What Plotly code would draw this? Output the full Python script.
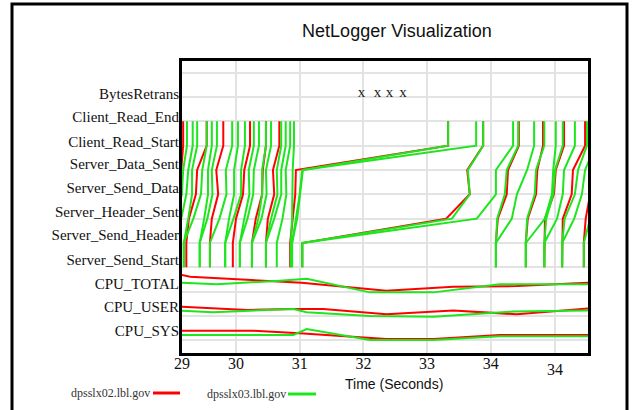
import plotly.graph_objects as go

TITLE = "NetLogger Visualization"
X_TITLE = "Time (Seconds)"
HOSTS = ["dpsslx02.lbl.gov", "dpsslx03.lbl.gov"]
HOST_COLORS = ["#ff0000", "#1ee61e"]

# y-axis category labels (top to bottom) and their positions on the numeric axis
Y_LABELS = ["BytesRetrans", "Client_Read_End", "Client_Read_Start", "Server_Data_Sent",
            "Server_Send_Data", "Server_Header_Sent", "Server_Send_Header", "Server_Send_Start",
            "CPU_TOTAL", "CPU_USER", "CPU_SYS"]
Y_LABEL_POS = [11.12, 10.17, 9.16, 8.25, 7.29, 6.29, 5.33, 4.33, 3.34, 2.37, 1.39]

# lifeline event order and levels
EVENT_NAMES = ["Server_Send_Start", "Server_Send_Header", "Server_Header_Sent",
               "Server_Send_Data", "Server_Data_Sent", "Client_Read_Start", "Client_Read_End"]
EVENT_LEVELS = [4, 5, 6, 7, 8, 9, 10]

X_TICK_VALS = [29.152, 30, 31, 32, 33, 34, 35]
X_TICK_TEXT = ["29", "30", "31", "32", "33", "34", ""]
LAST_TICK_VAL = 35
LAST_TICK_TEXT = "34"
X_RANGE = [29.152, 35.526]
Y_RANGE = [0.478, 12.48]

# lifelines (seconds at each event), host dpsslx02 (red)
RED_LIFELINES = [
    [28.93, 28.93, 29.04, 29.12, 29.14, 29.17, 29.17],
    [29.22, 29.22, 29.26, 29.37, 29.39, 29.54, 29.54],
    [29.59, 29.59, 29.62, 29.72, 29.69, 29.80, 29.80],
    [29.95, 29.95, 30.00, 30.11, 30.13, 30.22, 30.22],
    [30.25, 30.25, 30.31, 30.41, 30.42, 30.47, 30.47],
    [30.47, 30.47, 30.50, 30.60, 30.58, 30.68, 30.68],
    [30.85, 30.85, 30.89, 30.93, 30.94, 33.33, 33.33],
    [31.04, 31.04, 33.30, 33.67, 33.63, 33.88, 33.88],
    [34.08, 34.08, 34.11, 34.25, 34.27, 34.44, 34.44],
    [34.55, 34.55, 34.58, 34.71, 34.73, 34.82, 34.82],
    [34.84, 34.84, 34.85, 34.99, 35.02, 35.15, 35.15],
    [35.12, 35.12, 35.13, 35.27, 35.29, 35.48, 35.48],
    [35.46, 35.46, 35.49, 35.56, 35.59, 35.71, 35.71],
]

# lifelines, host dpsslx03 (green)
GREEN_LIFELINES = [
    [28.96, 28.96, 29.06, 29.15, 29.17, 29.23, 29.23],
    [29.06, 29.06, 29.14, 29.22, 29.25, 29.32, 29.32],
    [29.18, 29.18, 29.25, 29.31, 29.31, 29.39, 29.39],
    [29.18, 29.18, 29.33, 29.45, 29.47, 29.54, 29.54],
    [29.43, 29.43, 29.50, 29.56, 29.56, 29.62, 29.62],
    [29.43, 29.43, 29.55, 29.63, 29.62, 29.70, 29.70],
    [29.59, 29.59, 29.74, 29.85, 29.84, 29.94, 29.94],
    [29.83, 29.83, 29.89, 29.97, 29.97, 30.03, 30.03],
    [29.83, 29.83, 29.96, 30.08, 30.08, 30.14, 30.14],
    [30.06, 30.06, 30.13, 30.21, 30.20, 30.28, 30.28],
    [30.06, 30.06, 30.18, 30.27, 30.28, 30.36, 30.36],
    [30.25, 30.25, 30.35, 30.41, 30.41, 30.47, 30.47],
    [30.25, 30.25, 30.40, 30.48, 30.47, 30.55, 30.55],
    [30.47, 30.47, 30.55, 30.65, 30.64, 30.71, 30.71],
    [30.47, 30.47, 30.60, 30.71, 30.71, 30.78, 30.78],
    [30.64, 30.64, 30.73, 30.79, 30.78, 30.85, 30.85],
    [30.86, 30.86, 30.88, 30.88, 30.89, 30.91, 30.91],
    [30.88, 30.88, 30.94, 31.00, 31.04, 33.33, 33.33],
    [30.88, 30.88, 30.96, 31.00, 31.05, 33.77, 33.77],
    [31.04, 31.04, 33.39, 33.67, 33.64, 33.88, 33.88],
    [31.04, 31.04, 33.78, 34.08, 34.08, 34.35, 34.35],
    [34.08, 34.08, 34.10, 34.22, 34.25, 34.43, 34.43],
    [34.08, 34.08, 34.33, 34.41, 34.57, 34.68, 34.68],
    [34.55, 34.55, 34.57, 34.69, 34.71, 34.84, 34.84],
    [34.55, 34.55, 34.85, 34.96, 34.98, 35.02, 35.02],
    [34.84, 34.84, 34.87, 34.98, 35.01, 35.13, 35.13],
    [34.84, 34.84, 35.04, 35.13, 35.15, 35.32, 35.32],
    [35.12, 35.12, 35.16, 35.32, 35.37, 35.51, 35.51],
    [35.12, 35.12, 35.31, 35.43, 35.48, 35.64, 35.64],
    [35.46, 35.46, 35.56, 35.66, 35.71, 35.79, 35.79],
]

# CPU metrics (time, scaled value on the y axis)
RED_CPU_TOTAL_T = [29.12, 29.28, 31.03, 32.36, 33.41, 34.41, 35.53]
RED_CPU_TOTAL_V = [3.70, 3.61, 3.37, 3.04, 3.20, 3.23, 3.37]
GREEN_CPU_TOTAL_T = [29.12, 29.70, 30.69, 31.11, 32.10, 33.10, 34.14, 35.53]
GREEN_CPU_TOTAL_V = [3.37, 3.30, 3.45, 3.53, 2.97, 2.97, 3.30, 3.30]

RED_CPU_USER_T = [29.12, 30.17, 30.90, 31.37, 32.36, 33.41, 34.41, 35.53]
RED_CPU_USER_V = [2.38, 2.25, 2.29, 2.29, 2.07, 2.22, 2.07, 2.31]
GREEN_CPU_USER_T = [29.12, 29.64, 30.90, 31.11, 32.10, 33.10, 34.35, 35.53]
GREEN_CPU_USER_V = [2.22, 2.15, 2.29, 2.15, 2.00, 1.97, 2.18, 2.22]

RED_CPU_SYS_T = [29.12, 30.27, 31.00, 32.36, 33.10, 34.14, 35.53]
RED_CPU_SYS_V = [1.39, 1.39, 1.29, 1.05, 1.05, 1.22, 1.22]
GREEN_CPU_SYS_T = [29.12, 30.90, 31.11, 32.10, 33.10, 34.14, 35.53]
GREEN_CPU_SYS_V = [1.22, 1.22, 1.46, 1.01, 1.01, 1.17, 1.17]

BYTES_RETRANS_T = [31.97, 32.22, 32.41, 32.62]
BYTES_RETRANS_LEVEL = 11.15

SERIF = "Liberation Serif"
SANS = "Liberation Sans"
GRID = "#e3e3e3"

fig = go.Figure()


def lifeline_trace(lifelines, color):
    xs, ys = [], []
    for ll in lifelines:
        xs += ll + [None]
        ys += EVENT_LEVELS + [None]
    return go.Scatter(x=xs, y=ys, mode="lines", line=dict(color=color, width=2),
                      showlegend=False, hoverinfo="skip")


fig.add_trace(lifeline_trace(RED_LIFELINES, HOST_COLORS[0]))
fig.add_trace(lifeline_trace(GREEN_LIFELINES, HOST_COLORS[1]))

for t, v, c in [(RED_CPU_TOTAL_T, RED_CPU_TOTAL_V, HOST_COLORS[0]),
                (RED_CPU_USER_T, RED_CPU_USER_V, HOST_COLORS[0]),
                (RED_CPU_SYS_T, RED_CPU_SYS_V, HOST_COLORS[0]),
                (GREEN_CPU_TOTAL_T, GREEN_CPU_TOTAL_V, HOST_COLORS[1]),
                (GREEN_CPU_USER_T, GREEN_CPU_USER_V, HOST_COLORS[1]),
                (GREEN_CPU_SYS_T, GREEN_CPU_SYS_V, HOST_COLORS[1])]:
    fig.add_trace(go.Scatter(x=t, y=v, mode="lines", line=dict(color=c, width=2),
                             showlegend=False, hoverinfo="skip"))

fig.add_trace(go.Scatter(x=BYTES_RETRANS_T, y=[BYTES_RETRANS_LEVEL] * len(BYTES_RETRANS_T),
                         mode="text", text=["x"] * len(BYTES_RETRANS_T),
                         textfont=dict(family=SERIF, size=15, color="#222222"),
                         showlegend=False, hoverinfo="skip"))

# helper axis for horizontal gridlines
fig.add_trace(go.Scatter(x=[None], y=[None], yaxis="y2", showlegend=False, hoverinfo="skip"))

fig.update_layout(
    width=632, height=410,
    margin=dict(l=182, r=44, t=61, b=57),
    paper_bgcolor="white", plot_bgcolor="white",
    title=dict(text=TITLE, x=397 / 632, y=1 - 31 / 410, xanchor="center", yanchor="middle",
               xref="container", yref="container",
               font=dict(family=SANS, size=18, color="#111111")),
    xaxis=dict(range=X_RANGE, tickvals=X_TICK_VALS, ticktext=X_TICK_TEXT,
               showgrid=True, gridcolor=GRID, gridwidth=2, zeroline=False,
               showline=True, mirror=True, linecolor="black", linewidth=3, ticks="",
               ticklabelstandoff=-6,
               tickfont=dict(family=SERIF, size=16, color="#111111")),
    yaxis=dict(range=Y_RANGE, tickvals=Y_LABEL_POS, ticktext=Y_LABELS, showgrid=False,
               zeroline=False, showline=True, mirror=True, linecolor="black", linewidth=3,
               ticks="", ticklabelstandoff=-3,
               tickfont=dict(family=SERIF, size=15, color="#111111")),
    yaxis2=dict(range=Y_RANGE, overlaying="y", anchor="x", tick0=0, dtick=1,
                showgrid=True, gridcolor=GRID, gridwidth=2, zeroline=False,
                showticklabels=False, showline=False, ticks=""),
)

annotations = [
    dict(text=X_TITLE, x=(394 - 182) / 406, y=(353 - 384) / 292, xref="paper", yref="paper",
         xanchor="center", yanchor="middle", showarrow=False,
         font=dict(family=SANS, size=14, color="#111111")),
    dict(text=LAST_TICK_TEXT, x=LAST_TICK_VAL, y=(353 - 370) / 292, xref="x", yref="paper",
         xanchor="center", yanchor="middle", showarrow=False,
         font=dict(family=SERIF, size=16, color="#111111")),
    dict(text=HOSTS[0], x=(152 - 182) / 406, y=(353 - 393) / 292, xref="paper", yref="paper",
         xanchor="right", yanchor="middle", showarrow=False,
         font=dict(family=SERIF, size=12, color="#333333")),
    dict(text=HOSTS[1], x=(288 - 182) / 406, y=(353 - 394) / 292, xref="paper", yref="paper",
         xanchor="right", yanchor="middle", showarrow=False,
         font=dict(family=SERIF, size=12, color="#333333")),
]
fig.update_layout(annotations=annotations)

shapes = [
    dict(type="rect", xref="paper", yref="paper", x0=(12 - 182) / 406, x1=(627 - 182) / 406,
         y0=(353 - 420) / 292, y1=(353 - 4) / 292, line=dict(color="black", width=3)),
    dict(type="line", xref="paper", yref="paper", x0=(153 - 182) / 406, x1=(180 - 182) / 406,
         y0=(353 - 393) / 292, y1=(353 - 393) / 292, line=dict(color=HOST_COLORS[0], width=3)),
    dict(type="line", xref="paper", yref="paper", x0=(288 - 182) / 406, x1=(316 - 182) / 406,
         y0=(353 - 394) / 292, y1=(353 - 394) / 292, line=dict(color=HOST_COLORS[1], width=3)),
]
fig.update_layout(shapes=shapes)

fig.write_html("out.html", config={"displayModeBar": False},
               post_script="document.body.style.margin='0';")
